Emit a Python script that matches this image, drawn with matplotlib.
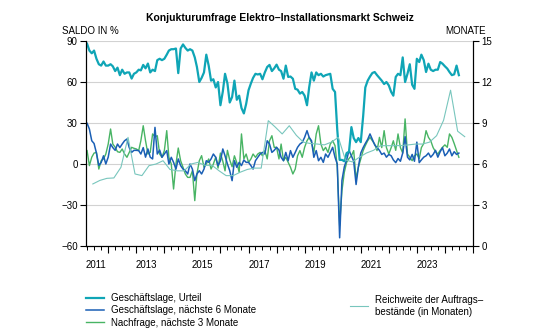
import matplotlib
matplotlib.use("Agg")
import matplotlib.pyplot as plt
import matplotlib.dates as mdates
import matplotlib.ticker as mticker
from matplotlib.lines import Line2D
import pandas as pd
from datetime import datetime

plt.rcParams['font.family'] = ['Liberation Sans', 'DejaVu Sans']

# monthly survey balances (in %), April 2011 - July 2024
urteil = (
    [88, 83, 81, 83, 77, 73, 72, 75, 72]
    + [72, 73, 71.5, 68, 70.5, 65, 69, 66, 67, 67, 62.5, 66]
    + [67, 69, 68.5, 72.5, 70, 73.5, 67, 69, 68, 76, 77, 76]
    + [77, 80, 83, 84, 84, 84.5, 66.5, 84.5, 87.5, 85, 83, 84]
    + [83, 78, 71, 60, 63, 67, 80, 72, 61, 62, 56, 60]
    + [43, 53, 66, 59, 45, 49, 61, 47, 50, 41, 37, 44]
    + [54, 59, 63, 66, 65.5, 66, 62, 67, 71, 72.5, 68, 70]
    + [72.7, 69, 68, 62.4, 72, 63.7, 64, 62.4, 55, 54.4, 51.5, 52.7]
    + [50, 43, 56, 67, 61, 67, 65, 66, 64, 65, 65.5, 66]
    + [55, 52.7, 25, 3, 3, 2, 8, 9, 27, 19, 16, 19]
    + [16, 35, 56, 61, 64, 66.6, 67.3, 65, 63, 61, 58.5, 60]
    + [57.5, 52.7, 50, 63.7, 66, 65, 78, 60, 66, 73, 58, 55]
    + [77, 74.6, 80, 76, 67.3, 73.4, 69, 68, 69, 69, 74.6, 73.4]
    + [71.5, 69.8, 67.3, 65, 65.6, 72, 65]
)

lage_6m = (
    [29.8, 25.6, 17, 15, 8, -1, 1, 6, 0]
    + [5, 14.6, 12, 10, 14.6, 12, 14.6, 17, 18.3, 12, 8.5, 10]
    + [10, 9.8, 7.3, 12, 5, 11, 5, 3.7, 26.8, 7.3, 10.2, 4.9]
    + [7.3, 9.8, 0, 4.9, 1.2, -3.7, 3.7, -1.2, -3.7, -4.9, -7.3, 0]
    + [-3.7, -12.2, -7.3, -4.9, -7.3, -3.7, 2.4, 1.2, 3.7, 7.3, 4.9, -1.2]
    + [2.4, 11, 6, 0, -4.9, -12.2, 2.4, -2.4, 1.2, -1.2, 2.9, 1.2]
    + [1.2, -1.2, -3.7, 2.4, 4.9, 7.3, 8.5, 7.3, 17, 14.6, 8.5, 10]
    + [12.2, 10.2, 4.9, 2.4, 8.5, 2.4, 9.8, 4.9, 8.5, 12.2, 14.6, 15.8]
    + [19.5, 24.4, 19.5, 17, 4.9, 9.8, 2.4, 4.9, 1.2, 7.3, 4.9, 8.5]
    + [12.2, 4.9, 0, -54, -12, -2, 3, 10, 6, 2, -15, -2]
    + [8, 12, 15, 18, 22, 18, 14, 12, 10, 7, 8, 5]
    + [7, 6, 3, 1, 4, 2, 8, 20, 5, 3, 7, 2]
    + [16, 1, 3, 5, 6, 8, 5, 7, 10, 5, 9, 12]
    + [6, 8, 11, 6, 9, 7, 8]
)

nachfrage_3m = (
    [9.8, -1.2, 5, 8, 8.5, -3.7, 2.4, 3.7, 7.3]
    + [14.6, 25.6, 14.6, 12.2, 9, 8.5, 11, 7.3, 4.9, 8.5, 12.2, 11.5]
    + [11, 9.8, 17, 28, 17, 7.3, 8.5, 22, 20, 20.7, 7.3, 4.9]
    + [9.8, 24.4, 4.9, 0, -18.3, 0, 11.7, 2.4, -2.4, -7.3, -9.8, -9.8]
    + [-4.9, -26.8, -7.3, 2.4, 6.1, -2.4, 0, 3.7, -3.7, 0, 5, -3]
    + [8, 2, -5, 10, 3, -2, 6, 1, -6, 22, 3.7, 7.3]
    + [1.2, 3.7, 7.3, 4.9, 7.3, 8.5, 6, 9.8, 3.7, 17, 20.7, 12.2]
    + [12.2, 3.7, 14.6, 2.4, 4.9, 1.2, -2.4, -7.3, -3.7, 6, 9.8, 4.9]
    + [12.2, 17, 19.5, 15.8, 8.5, 22, 28, 14.6, 9.8, 12.2, 8.5, 14.6]
    + [17, 13.4, -2.4, -45, -19.5, -6, 1.2, 4, 6, 9.8, -11, -2.4]
    + [3.7, 9.8, 13.4, 17, 19.5, 17, 14.6, 9.8, 19.5, 12, 24.4, 12]
    + [7.3, 12, 17, 10, 22, 12, 8, 33, 7.3, 5, 2.4, 6]
    + [7.3, 4, 12, 15, 24.4, 19.5, 17, 12, 9, 7.3, 10, 12.2]
    + [14, 12.2, 22, 19.5, 15, 9.8, 4.9]
)

# order backlog in months, quarterly
reichweite = [
    4.54, 4.8, 4.95, 4.98, 5.76, 7.95, 5.27, 5.15, 5.88, 6.0, 6.24, 5.6,
    5.5, 5.5, 6.0, 6.12, 5.9, 5.9, 5.5, 5.15, 5.15, 5.4, 5.6, 5.7,
    5.7, 9.17, 8.7, 8.2, 8.8, 8.1, 7.6, 7.5, 7.46, 7.4, 7.6, 7.95,
    6.3, 6.15, 6.5, 6.8, 7.0, 7.34, 7.34, 7.34, 7.35, 7.4, 7.46, 7.46,
    7.6, 8.07, 9.2, 11.4, 8.4, 8.0,
]

dates = pd.date_range('2011-04-01', periods=len(urteil), freq='MS')
q_dates = pd.date_range('2011-05-15', periods=len(reichweite), freq='3MS') + pd.Timedelta(days=14)

c_urteil = '#0fa5b6'
c_lage = '#1a5fb5'
c_nachfrage = '#48b464'
c_reich = '#78c6bd'

fig = plt.figure(figsize=(5.6, 3.36), dpi=100)
ax = fig.add_axes([86 / 560, 1 - 246 / 336, (473 - 86) / 560, (246 - 41) / 336])

ax.plot(dates, nachfrage_3m, color=c_nachfrage, lw=1.0)
ax.plot(dates, lage_6m, color=c_lage, lw=1.1)
ax.plot(dates, urteil, color=c_urteil, lw=1.6)

ax.set_xlim(datetime(2011, 3, 18), datetime(2025, 1, 1))
ax.set_ylim(-60, 90)
ax.set_yticks(range(-60, 91, 30))
ax.yaxis.grid(True, color='#d2d2d2', lw=0.8)
ax.set_axisbelow(True)

ax.xaxis.set_major_locator(mdates.YearLocator())
ax.xaxis.set_minor_locator(mdates.MonthLocator((1, 4, 7, 10)))
ax.xaxis.set_major_formatter(mticker.NullFormatter())
ax.tick_params(axis='x', which='major', length=5, width=0.8, direction='out')
ax.tick_params(axis='x', which='minor', length=3, width=0.7, direction='out')
ax.tick_params(axis='y', length=4, width=0.8, labelsize=7, pad=2)

for yr in range(2011, 2024, 2):
    xpos = datetime(yr, 7, 20) if yr == 2011 else datetime(yr, 5, 15)
    ax.text(xpos, -0.093, str(yr), transform=ax.get_xaxis_transform(),
            ha='center', va='center', fontsize=7)

ax2 = ax.twinx()
ax2.plot(q_dates, reichweite, color=c_reich, lw=0.8)
ax2.set_ylim(0, 15)
ax2.set_yticks(range(0, 16, 3))
ax2.tick_params(axis='y', length=4, width=0.8, labelsize=7, pad=2)

for a in (ax, ax2):
    a.spines['top'].set_visible(False)
    for s in ('left', 'right', 'bottom'):
        a.spines[s].set_linewidth(0.8)
        a.spines[s].set_color('black')

fig.text(0.5, 1 - 18 / 336, 'Konjukturumfrage Elektro\u2013Installationsmarkt Schweiz',
         ha='center', va='center', fontsize=7.5, fontweight='bold')
fig.text(62 / 560, 1 - 31 / 336, 'SALDO IN %', ha='left', va='center', fontsize=7)
fig.text(486 / 560, 1 - 31 / 336, 'MONATE', ha='right', va='center', fontsize=7)

left_handles = [Line2D([], [], color=c_urteil, lw=1.6),
                Line2D([], [], color=c_lage, lw=1.1),
                Line2D([], [], color=c_nachfrage, lw=1.0)]
left_labels = ['Geschäftslage, Urteil', 'Geschäftslage, nächste 6 Monate',
               'Nachfrage, nächste 3 Monate']
fig.legend(left_handles, left_labels, loc='upper left',
           bbox_to_anchor=(86 / 560, 1 - 293 / 336), frameon=False, fontsize=7,
           handlelength=1.8, handletextpad=0.8, labelspacing=0.25,
           borderpad=0, borderaxespad=0)
fig.legend([Line2D([], [], color=c_reich, lw=0.8)],
           ['Reichweite der Auftrags\u2013\nbestände (in Monaten)'], loc='upper left',
           bbox_to_anchor=(350 / 560, 1 - 295 / 336), frameon=False, fontsize=7,
           handlelength=1.8, handletextpad=0.8, borderpad=0, borderaxespad=0)

fig.savefig('out.png', dpi=100)
